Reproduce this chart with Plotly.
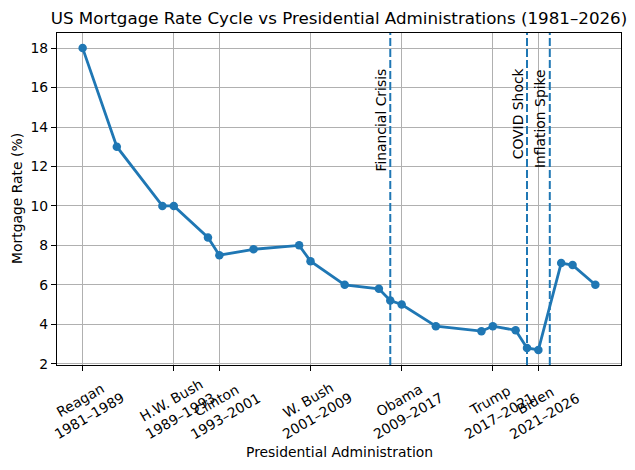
import plotly.graph_objects as go

years = [1981, 1984, 1988, 1989, 1992, 1993, 1996, 2000, 2001, 2004, 2007, 2008,
         2009, 2012, 2016, 2017, 2019, 2020, 2021, 2023, 2024, 2026]
rates = [18.0, 13.0, 10.0, 10.0, 8.4, 7.5, 7.8, 8.0, 7.2, 6.0, 5.8, 5.2,
         5.0, 3.9, 3.65, 3.9, 3.7, 2.8, 2.7, 7.1, 7.0, 6.0]

admin_years = [1981, 1989, 1993, 2001, 2009, 2017, 2021]
admin_labels = ["Reagan<br>1981–1989", "H.W. Bush<br>1989–1993", "Clinton<br>1993–2001",
                "W. Bush<br>2001–2009", "Obama<br>2009–2017", "Trump<br>2017–2021",
                "Biden<br>2021–2026"]

event_years = [2008, 2020, 2022]
event_labels = ["Financial Crisis", "COVID Shock", "Inflation Spike"]
event_label_y = 17

y_ticks = [2, 4, 6, 8, 10, 12, 14, 16, 18]

BLUE = "#1f77b4"
FONT = "DejaVu Sans"
TICK_PX = 13.9

# page body has an 8px margin; size the figure so it fits the 635x470 window
W, H = 627, 462

xspan = max(years) - min(years)
yspan = max(rates) - min(rates)
xr = [min(years) - 0.05 * xspan, max(years) + 0.05 * xspan]
yr = [min(rates) - 0.05 * yspan, max(rates) + 0.05 * yspan]

fig = go.Figure()
fig.add_trace(go.Scatter(
    x=years, y=rates, mode="lines+markers",
    line=dict(color=BLUE, width=2.8),
    marker=dict(color=BLUE, size=8.5),
    showlegend=False,
))

for ey, lab in zip(event_years, event_labels):
    fig.add_shape(type="line", xref="x", yref="paper", x0=ey, x1=ey, y0=0, y1=1,
                  line=dict(color=BLUE, width=2, dash="8px,3px"), layer="above")
    fig.add_annotation(x=ey, y=event_label_y, xref="x", yref="y", text=lab,
                       textangle=-90, xanchor="right", yanchor="top",
                       showarrow=False, borderpad=0,
                       font=dict(family=FONT, size=TICK_PX, color="black"))

for ax_year, lab in zip(admin_years, admin_labels):
    fig.add_annotation(x=ax_year, y=0, xref="x", yref="paper", text=lab,
                       textangle=-30, xanchor="center", yanchor="middle", yshift=-43,
                       xshift=2, showarrow=False, align="center", borderpad=0,
                       font=dict(family=FONT, size=TICK_PX, color="black"))

fig.add_annotation(x=0.5, y=0, xref="paper", yref="paper", text="Presidential Administration",
                   xanchor="center", yanchor="middle", yshift=-87, showarrow=False,
                   font=dict(family=FONT, size=TICK_PX, color="black"))
fig.add_annotation(x=0, y=0.5, xref="paper", yref="paper", text="Mortgage Rate (%)",
                   textangle=-90, xanchor="center", yanchor="middle", xshift=-40,
                   showarrow=False,
                   font=dict(family=FONT, size=TICK_PX, color="black"))

axis_common = dict(
    showline=True, linecolor="black", linewidth=1.1, mirror=True,
    showgrid=True, gridcolor="#b0b0b0", gridwidth=1.1,
    ticks="outside", ticklen=5, tickwidth=1.1, tickcolor="black",
    zeroline=False, automargin=False,
)

fig.update_layout(
    width=W, height=H,
    margin=dict(l=49, r=14, t=25, b=105, autoexpand=False),
    paper_bgcolor="white", plot_bgcolor="white",
    font=dict(family=FONT, size=TICK_PX, color="black"),
    title=dict(text="US Mortgage Rate Cycle vs Presidential Administrations (1981–2026)",
               x=0.5, xref="paper", xanchor="center",
               y=1 - 10 / H, yref="container", yanchor="middle", automargin=False,
               font=dict(family=FONT, size=16.7, color="black")),
    xaxis=dict(range=xr, tickvals=admin_years, showticklabels=False, **axis_common),
    yaxis=dict(range=yr, tickvals=y_ticks, ticktext=[str(v) for v in y_ticks],
               tickfont=dict(family=FONT, size=TICK_PX, color="black"), **axis_common),
)

fig.write_html("out.html")
